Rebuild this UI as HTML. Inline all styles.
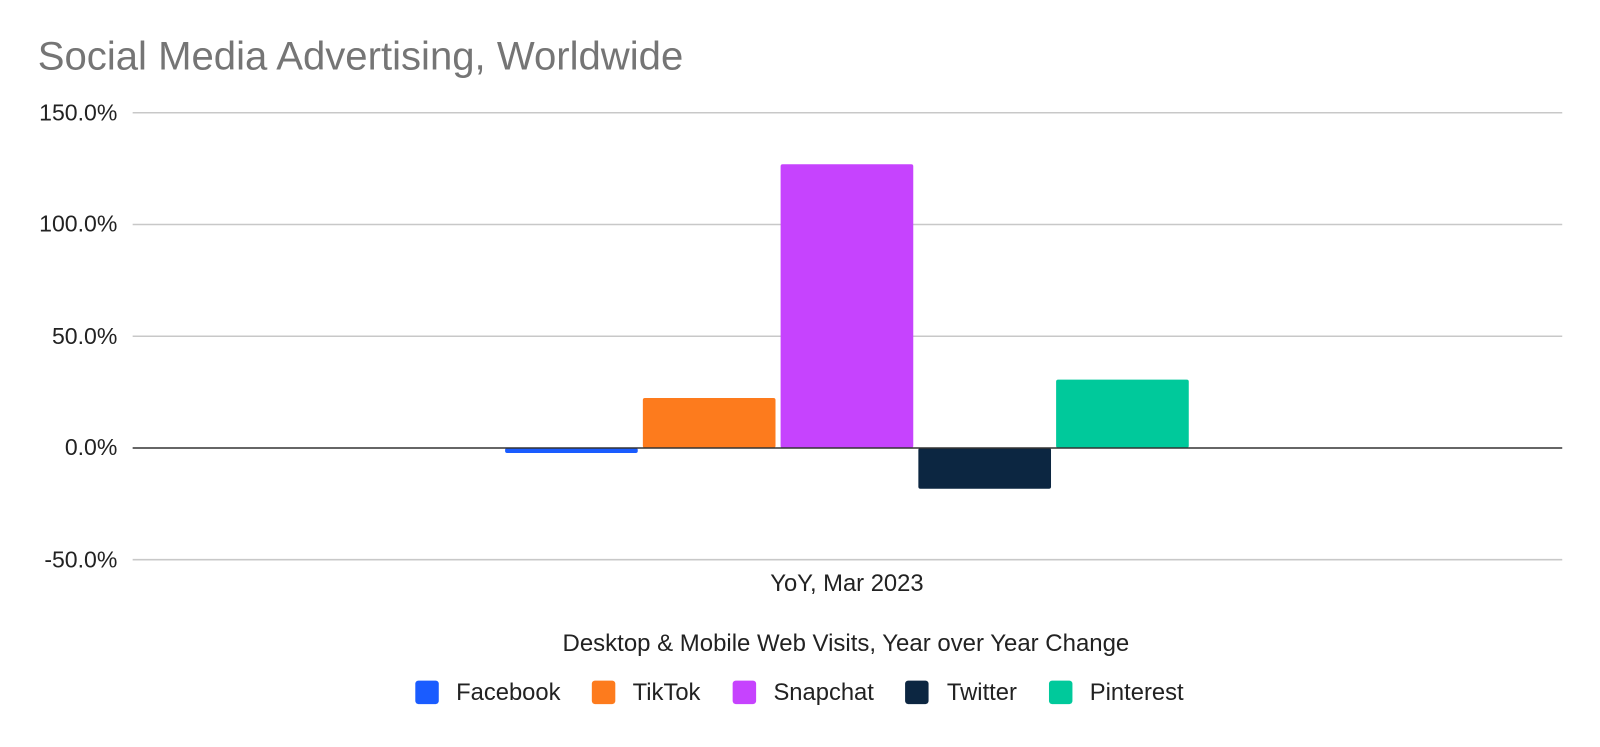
<!DOCTYPE html>
<html><head><meta charset="utf-8"><style>
html,body{margin:0;padding:0;background:#fff;}
body{width:1600px;height:742px;overflow:hidden;}
</style></head><body>
<svg width="1600" height="742" xmlns="http://www.w3.org/2000/svg" font-family="Liberation Sans, Arial, sans-serif">
<g transform="scale(1.0204)">
<text x="37" y="68" font-size="39.3" fill="#757575">Social Media Advertising, Worldwide</text>
<g stroke="#c8c8c8" stroke-width="1.5">
<line x1="130" x2="1531" y1="110.5" y2="110.5"/>
<line x1="130" x2="1531" y1="220" y2="220"/>
<line x1="130" x2="1531" y1="329.5" y2="329.5"/>
<line x1="130" x2="1531" y1="548.5" y2="548.5"/>
</g>
<g font-size="22.6" fill="#222" text-anchor="end">
<text x="115" y="118">150.0%</text>
<text x="115" y="227">100.0%</text>
<text x="115" y="337">50.0%</text>
<text x="115" y="446">0.0%</text>
<text x="115" y="556">-50.0%</text>
</g>
<rect x="495" y="439" width="130" height="5" rx="2" fill="#1a5cff"/>
<rect x="630" y="390" width="130" height="49" rx="2" fill="#fd7b1d"/>
<rect x="765" y="161" width="130" height="278" rx="2" fill="#c643fe"/>
<rect x="900" y="439" width="130" height="40" rx="2" fill="#0c2641"/>
<rect x="1035" y="372" width="130" height="67" rx="2" fill="#00c99b"/>
<line x1="130" x2="1531" y1="439" y2="439" stroke="#333" stroke-width="1.5"/>
<text x="830" y="579" font-size="23.3" fill="#222" text-anchor="middle">YoY, Mar 2023</text>
<text x="829" y="638" font-size="23.5" fill="#222" text-anchor="middle">Desktop &amp; Mobile Web Visits, Year over Year Change</text>
<g font-size="23.3" fill="#222">
<rect x="407" y="667" width="23" height="23" rx="3" fill="#1a5cff"/><text x="447" y="686">Facebook</text>
<rect x="580" y="667" width="23" height="23" rx="3" fill="#fd7b1d"/><text x="620" y="686">TikTok</text>
<rect x="718" y="667" width="23" height="23" rx="3" fill="#c643fe"/><text x="758" y="686">Snapchat</text>
<rect x="887" y="667" width="23" height="23" rx="3" fill="#0c2641"/><text x="928" y="686">Twitter</text>
<rect x="1028" y="667" width="23" height="23" rx="3" fill="#00c99b"/><text x="1068" y="686">Pinterest</text>
</g>
</g>
</svg>
</body></html>
